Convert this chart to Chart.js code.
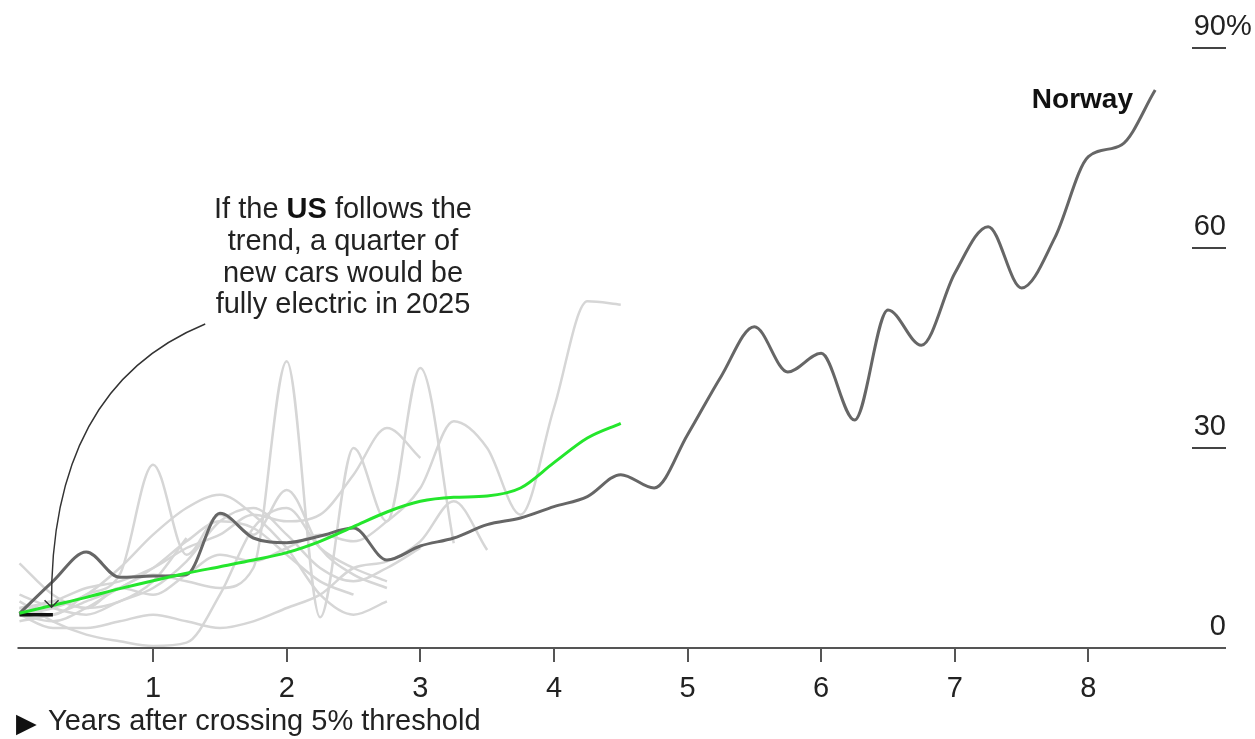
<!DOCTYPE html>
<html>
<head>
<meta charset="utf-8">
<script src="https://cdn.jsdelivr.net/npm/chart.js@4.4.0/dist/chart.umd.min.js"></script>
<style>
  html, body { margin: 0; padding: 0; background: #fff; }
  #wrap { width: 1255px; height: 739px; position: relative; }
</style>
</head>
<body>
<div id="wrap"><canvas id="chart"></canvas></div>
<script>
// Years after crossing the 5% threshold (quarterly)
const years = [0, 0.25, 0.5, 0.75, 1, 1.25, 1.5, 1.75, 2, 2.25, 2.5, 2.75, 3, 3.25, 3.5, 3.75,
               4, 4.25, 4.5, 4.75, 5, 5.25, 5.5, 5.75, 6, 6.25, 6.5, 6.75, 7, 7.25, 7.5, 7.75,
               8, 8.25, 8.5];

// EV share of new car sales, %
const norway = [5.2, 10, 14.4, 10.6, 10.8, 11, 20.2, 16.5, 15.8, 16.8, 18, 13.2, 15.3, 16.5, 18.5, 19.5,
                21.2, 22.7, 26, 24, 32, 40.7, 48.2, 41.4, 44.2, 34.2, 50.7, 45.4, 56.2, 63.2, 54, 61.6,
                73.7, 75.5, 83.7];
const usTrend = [5.2, 6.4, 7.6, 8.9, 10.1, 11.2, 12.2, 13.2, 14.3, 16, 18.2, 20.4, 22, 22.6, 22.8, 24,
                 27.8, 31.5, 33.7];
const usActual = [5, 5];

// other countries (grey)
const others = [
  [6, 5, 8, 11, 27.5, 14, 20, 17, 23.7, 15, 11, 9],
  [5, 4, 6, 9, 11, 10, 9, 12, 43, 4.6, 30, 19, 42, 15.7],
  [5, 7, 6, 9, 8, 11, 14, 13, 15, 17, 16, 19, 24, 34, 30, 20, 36, 52, 51.5],
  [7, 4, 2, 1, 0.3, 0.8, 8, 18, 21, 15, 12, 10],
  [12.7, 8, 6, 7, 10, 16.5],
  [5, 6, 8, 12, 17, 21, 23, 20, 15, 8, 5, 7],
  [6, 7, 9, 10, 12, 15, 17, 20, 19, 20, 26, 33, 28.5],
  [5, 3, 3, 4, 5, 4, 3, 4, 6, 8, 12, 13, 16, 22, 14.7],
  [8, 6, 5, 7, 9, 13, 19, 21, 17, 12, 10, 12, 15],
  [4, 5, 7, 9, 12, 16, 19, 18, 14, 10, 8]
];

const xTicks = [1, 2, 3, 4, 5, 6, 7, 8];
const yTicks = [0, 30, 60, 90];
const noteLines = [
  [['If the ', false], ['US', true], [' follows the', false]],
  [['trend, a quarter of', false]],
  [['new cars would be', false]],
  [['fully electric in 2025', false]]
];

const FONT = "'Liberation Sans', Arial, Helvetica, sans-serif";

function pts(vals) {
  return vals.map((v, i) => ({ x: years[i], y: v }));
}

const datasets = [
  { data: pts(usTrend), borderColor: '#24e62c', borderWidth: 3 },
  { data: pts(usActual), borderColor: '#111', borderWidth: 3.5 },
  { data: pts(norway), borderColor: '#666', borderWidth: 3 }
];
others.forEach(o => datasets.push({ data: pts(o), borderColor: '#d6d6d6', borderWidth: 2.5 }));
datasets.forEach(d => {
  d.pointRadius = 0;
  d.cubicInterpolationMode = 'monotone';
  d.clip = false;
});

const decor = {
  id: 'decor',
  afterDraw(chart) {
    const { ctx, scales: { x, y } } = chart;
    const y0 = y.getPixelForValue(0);
    const right = x.getPixelForValue(9) + 4;
    ctx.save();

    // x axis
    ctx.strokeStyle = '#555';
    ctx.lineWidth = 2;
    ctx.beginPath();
    ctx.moveTo(x.getPixelForValue(0) - 2, y0);
    ctx.lineTo(right, y0);
    xTicks.forEach(t => {
      const px = Math.round(x.getPixelForValue(t));
      ctx.moveTo(px, y0);
      ctx.lineTo(px, y0 + 14);
    });
    ctx.stroke();

    ctx.fillStyle = '#222';
    ctx.font = '29px ' + FONT;
    ctx.textAlign = 'center';
    ctx.textBaseline = 'alphabetic';
    xTicks.forEach(t => ctx.fillText(String(t), x.getPixelForValue(t), y0 + 49));

    // y labels on the right
    ctx.strokeStyle = '#444';
    yTicks.forEach(v => {
      const py = y.getPixelForValue(v);
      ctx.textAlign = 'right';
      ctx.fillText(String(v), right, py - 13);
      if (v === 90) {
        ctx.textAlign = 'left';
        ctx.fillText('%', right, py - 13);
      }
      if (v !== 0) {
        ctx.beginPath();
        ctx.moveTo(right - 34, py);
        ctx.lineTo(right, py);
        ctx.stroke();
      }
    });

    // axis title
    ctx.textAlign = 'left';
    ctx.fillStyle = '#111';
    ctx.font = "27px 'DejaVu Sans', sans-serif";
    ctx.fillText('\u25B6', 16, y0 + 84);
    ctx.fillStyle = '#222';
    ctx.font = '29px ' + FONT;
    ctx.fillText('Years after crossing 5% threshold', 48, y0 + 82);

    // Norway label
    ctx.font = 'bold 28px ' + FONT;
    ctx.textAlign = 'right';
    ctx.fillStyle = '#111';
    ctx.fillText('Norway', 1133, 108);

    // note text
    ctx.textAlign = 'left';
    const cx = 343;
    noteLines.forEach((line, i) => {
      let w = 0;
      line.forEach(([t, b]) => {
        ctx.font = (b ? 'bold ' : '') + '29px ' + FONT;
        w += ctx.measureText(t).width;
      });
      let px = cx - w / 2;
      line.forEach(([t, b]) => {
        ctx.font = (b ? 'bold ' : '') + '29px ' + FONT;
        ctx.fillStyle = b ? '#111' : '#222';
        ctx.fillText(t, px, 218 + i * 31.8);
        px += ctx.measureText(t).width;
      });
    });

    // arrow
    const sx = x.getPixelForValue(1.39), sy = y.getPixelForValue(48.6);
    const cpx = x.getPixelForValue(0.22), cpy = y.getPixelForValue(39);
    const tx = x.getPixelForValue(0.24), ty = y.getPixelForValue(6.1);
    ctx.strokeStyle = '#333';
    ctx.lineWidth = 1.4;
    ctx.beginPath();
    ctx.moveTo(sx, sy);
    ctx.quadraticCurveTo(cpx, cpy, tx, ty);
    ctx.moveTo(tx - 7, ty - 7);
    ctx.lineTo(tx, ty);
    ctx.lineTo(tx + 7, ty - 7);
    ctx.stroke();

    ctx.restore();
  }
};

new Chart(document.getElementById('chart'), {
  type: 'line',
  data: { datasets },
  options: {
    responsive: true,
    maintainAspectRatio: false,
    animation: false,
    layout: { padding: { left: 19.5, right: 33, top: 48, bottom: 91 } },
    plugins: { legend: { display: false }, tooltip: { enabled: false } },
    scales: {
      x: { type: 'linear', min: 0, max: 9, display: false },
      y: { type: 'linear', min: 0, max: 90, display: false }
    }
  },
  plugins: [decor]
});
</script>
</body>
</html>
